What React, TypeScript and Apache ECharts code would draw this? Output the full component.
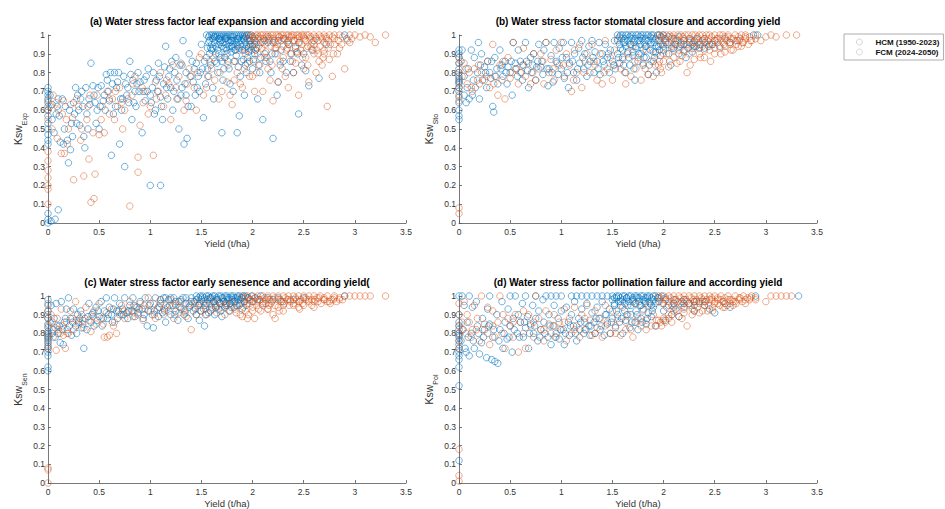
import React, { useEffect, useRef } from "react";
import * as echarts from "echarts";

// ---------- data (yield t/ha, water stress factor) ----------
const xTicks = [0, 0.5, 1, 1.5, 2, 2.5, 3, 3.5];
const seriesNames = ["HCM (1950-2023)", "FCM (2024-2050)"];
const titles = [
  "(a) Water stress factor leaf expansion and according yield",
  "(b) Water stress factor stomatal closure and according yield",
  "(c) Water stress factor early senesence and according yield(",
  "(d) Water stress factor pollination failure and according yield",
];
const subs = ["Exp", "Sto", "Sen", "Pol"];

const hcmExp = [
  [0,0.72],[0,0.7],[0,0.68],[0,0.66],[0,0.64],[0,0.62],[0,0.6],[0,0.57],[0,0.53],[0,0.5],[0,0.47],[0,0.44],[0,0.42],[0,0.05],[0,0.02],[0,0],[0.03,0.01],[0.07,0.02],[0.1,0.07],
  [0.04,0.63],[0.08,0.58],[0.1,0.66],[0.12,0.43],[0.15,0.42],[0.17,0.62],[0.19,0.44],[0.2,0.32],[0.22,0.39],[0.23,0.53],[0.25,0.64],[0.27,0.72],[0.28,0.53],[0.3,0.6],[0.32,0.66],[0.33,0.7],[0.35,0.46],[0.36,0.4],[0.38,0.58],[0.4,0.66],[0.42,0.85],[0.44,0.73],[0.45,0.68],[0.47,0.53],[0.48,0.6],[0.5,0.5],[0.52,0.73],[0.54,0.65],[0.55,0.68],[0.57,0.79],[0.58,0.76],[0.6,0.65],[0.61,0.8],[0.62,0.36],[0.64,0.58],[0.65,0.8],[0.67,0.72],[0.68,0.75],[0.7,0.42],[0.71,0.66],[0.72,0.6],[0.74,0.78],[0.75,0.3],[0.77,0.68],[0.78,0.72],[0.8,0.86],[0.81,0.79],[0.82,0.55],[0.84,0.64],[0.85,0.7],[0.87,0.74],[0.88,0.8],[0.9,0.75],[0.92,0.48],[0.93,0.7],[0.95,0.65],[0.96,0.78],[0.98,0.82],
  [1.0,0.2],[1.1,0.2],[1.0,0.68],[1.02,0.72],[1.04,0.58],[1.05,0.6],[1.06,0.76],[1.08,0.85],[1.1,0.67],[1.11,0.62],[1.12,0.55],[1.14,0.83],[1.15,0.94],[1.16,0.72],[1.18,0.78],[1.2,0.72],[1.21,0.86],[1.22,0.6],[1.24,0.8],[1.25,0.88],[1.27,0.66],[1.28,0.5],[1.3,0.68],[1.31,0.84],[1.32,0.97],[1.33,0.42],[1.34,0.74],[1.35,0.8],[1.36,0.45],[1.37,0.62],[1.38,0.9],[1.4,0.62],[1.41,0.86],[1.42,0.75],[1.44,0.68],[1.45,0.85],[1.47,0.78],[1.48,0.7],[1.5,0.95],[1.51,0.82],[1.52,0.56],[1.54,0.74],[1.55,0.88],[1.56,0.93],[1.57,0.78],[1.59,0.84],[1.6,0.92],[1.61,0.72],[1.62,0.66],[1.64,0.9],[1.65,0.85],[1.66,0.8],[1.68,0.96],[1.69,0.88],[1.7,0.48],[1.71,0.76],[1.72,0.82],[1.74,0.93],[1.75,0.9],[1.76,0.86],[1.78,0.74],[1.79,0.91],[1.8,0.94],[1.81,0.7],[1.82,0.86],[1.84,0.89],[1.85,0.48],[1.86,0.83],[1.87,0.57],[1.88,0.78],[1.9,0.92],[1.91,0.87],[1.92,0.68],[1.94,0.8],[1.95,0.88],[1.96,0.91],[1.98,0.95],
  [2.0,0.82],[2.01,0.87],[2.03,0.92],[2.05,0.66],[2.06,0.84],[2.08,0.88],[2.1,0.55],[2.12,0.9],[2.15,0.96],[2.17,0.86],[2.18,0.8],[2.2,0.45],[2.22,0.9],[2.24,0.68],[2.25,0.75],[2.28,0.92],[2.3,0.86],[2.33,0.8],[2.35,0.95],[2.38,0.9],[2.4,0.8],[2.42,0.93],[2.45,0.58],[2.48,0.84],[2.5,0.9],[2.52,0.81],[2.55,0.73],[2.58,0.92],[2.6,0.97],[2.65,0.77],[2.72,0.95],[2.9,1.0],[2.92,0.98],
];
const hcmExpMore = [
  [0.02,0.68],[0.04,0.55],[0.06,0.48],[0.09,0.62],[0.11,0.57],[0.14,0.66],[0.16,0.5],[0.21,0.6],[0.24,0.46],[0.26,0.58],[0.29,0.68],[0.31,0.52],[0.34,0.62],[0.37,0.72],[0.39,0.5],[0.41,0.63],[0.46,0.64],[0.49,0.72],[0.51,0.62],[0.56,0.6],[0.59,0.7],[0.63,0.74],[0.66,0.62],[0.69,0.8],[0.73,0.66],[0.76,0.74],[0.79,0.64],[0.83,0.76],[0.86,0.62],[0.89,0.7],[0.94,0.76],[0.97,0.7],
  [1.01,0.64],[1.03,0.8],[1.07,0.7],[1.09,0.78],[1.13,0.74],[1.17,0.66],[1.19,0.82],[1.23,0.7],[1.26,0.76],[1.29,0.84],[1.31,0.72],[1.35,0.68],[1.39,0.78],[1.43,0.82],[1.46,0.72],[1.49,0.8],[1.53,0.86],[1.56,0.82],[1.58,0.9],[1.63,0.86],[1.67,0.9],[1.7,0.86],[1.73,0.88],[1.77,0.82],[1.83,0.92],[1.89,0.86],[1.93,0.84],[1.97,0.86],[2.02,0.9],[2.07,0.8],[2.13,0.86],[2.19,0.9],[2.27,0.84],[2.37,0.86],[2.44,0.9],
];
const hcmExpTop = [
  [1.55,1],[1.57,0.99],[1.58,1],[1.6,1],[1.61,0.98],[1.62,1],[1.63,0.99],[1.64,1],[1.66,1],[1.67,0.98],[1.68,1],[1.69,0.99],[1.7,1],[1.72,1],[1.73,0.98],[1.74,1],[1.75,0.99],[1.76,1],[1.78,1],[1.79,0.97],[1.8,1],[1.81,0.99],[1.82,1],[1.84,1],[1.85,0.98],[1.86,1],[1.87,0.99],[1.88,1],[1.9,1],[1.91,0.98],[1.92,1],[1.93,0.99],[1.94,1],[1.96,1],[1.97,0.97],[1.98,1],[2.0,0.99],[2.02,0.97],[2.05,0.98],[2.08,0.96],[2.12,0.97],[2.16,0.98],[2.2,0.96],[2.25,0.97],[2.3,0.98],[2.35,0.97],[2.45,0.96],
  [1.58,0.97],[1.6,0.95],[1.61,0.93],[1.63,0.96],[1.64,0.94],[1.65,0.99],[1.66,0.92],[1.67,0.95],[1.69,0.97],[1.7,0.94],[1.71,0.96],[1.72,0.93],[1.73,0.99],[1.74,0.95],[1.75,0.92],[1.76,0.97],[1.77,0.94],[1.78,0.96],[1.79,0.99],[1.8,0.93],[1.81,0.95],[1.82,0.97],[1.83,0.92],[1.84,0.96],[1.85,0.94],[1.86,0.98],[1.87,0.93],[1.88,0.95],[1.89,0.97],[1.9,0.94],[1.91,0.99],[1.92,0.92],[1.93,0.96],[1.94,0.94],[1.95,0.98],[1.96,0.93],[1.97,0.95],[1.98,0.97],[1.99,0.92],[2.0,0.94],[1.62,0.99],[1.68,0.98],[1.74,0.98],[1.8,0.97],[1.86,0.96],[1.92,0.98],[1.57,0.96],[1.59,0.93],[2.02,0.95],[2.04,0.93],
];

const fcmExp = [
  [0,0.65],[0,0.6],[0,0.55],[0,0.38],[0,0.33],[0,0.28],[0,0.24],[0,0.2],[0,0.18],[0,0.1],[0.02,0.62],[0.05,0.68],[0.08,0.64],[0.1,0.6],[0.13,0.37],[0.15,0.65],[0.16,0.37],[0.18,0.55],[0.2,0.5],[0.22,0.63],[0.25,0.23],[0.28,0.66],[0.3,0.62],[0.33,0.5],[0.35,0.25],[0.38,0.55],[0.4,0.34],[0.41,0.68],[0.42,0.11],[0.45,0.13],[0.46,0.26],[0.48,0.68],[0.5,0.47],[0.53,0.62],[0.55,0.48],[0.58,0.7],[0.6,0.58],[0.63,0.66],[0.65,0.55],[0.68,0.62],[0.7,0.72],[0.73,0.5],[0.75,0.6],[0.78,0.66],[0.8,0.09],[0.83,0.74],[0.85,0.78],[0.88,0.27],[0.88,0.35],[0.9,0.52],[0.93,0.64],[0.95,0.7],[0.98,0.58],
  [1.0,0.62],[1.03,0.36],[1.05,0.75],[1.08,0.7],[1.1,0.8],[1.13,0.62],[1.15,0.68],[1.18,0.74],[1.2,0.55],[1.22,0.84],[1.25,0.72],[1.28,0.78],[1.3,0.85],[1.33,0.6],[1.35,0.65],[1.38,0.82],[1.4,0.78],[1.43,0.72],[1.45,0.6],[1.48,0.88],[1.5,0.9],[1.52,0.68],[1.55,0.72],[1.58,0.86],[1.6,0.82],[1.63,0.76],[1.67,0.66],[1.7,0.7],[1.73,0.88],[1.75,0.75],[1.78,0.68],[1.8,0.63],[1.83,0.86],[1.85,0.8],[1.88,0.74],[1.9,0.72],[1.93,0.9],[1.95,0.85],[1.97,0.78],
  [2.0,0.78],[2.02,0.7],[2.05,0.9],[2.07,0.84],[2.1,0.7],[2.12,0.88],[2.15,0.82],[2.17,0.76],[2.2,0.65],[2.22,0.93],[2.25,0.75],[2.27,0.86],[2.3,0.88],[2.32,0.78],[2.35,0.72],[2.37,0.9],[2.4,0.8],[2.42,0.85],[2.45,0.68],[2.47,0.92],[2.5,0.82],[2.52,0.88],[2.55,0.75],[2.57,0.94],[2.6,0.9],[2.62,0.8],[2.65,0.86],[2.68,0.84],[2.7,0.92],[2.73,0.62],[2.75,0.87],[2.78,0.78],[2.8,0.95],[2.83,0.9],[2.85,0.93],[2.9,0.82],[2.93,0.97],[2.95,0.96],[3.0,1.0],[3.05,0.99],[3.1,1.0],[3.15,0.99],[3.2,0.96],[3.3,1.0],
];
const fcmExpMore = [
  [0.04,0.5],[0.09,0.45],[0.14,0.58],[0.19,0.42],[0.24,0.56],[0.32,0.44],[0.39,0.62],[0.44,0.48],[0.52,0.55],[0.6,0.66],[0.66,0.7],[0.72,0.64],[0.82,0.68],[0.92,0.72],[1.06,0.66],[1.16,0.76],[1.26,0.66],[1.36,0.74],[1.46,0.8],[1.56,0.78],[1.62,0.88],[1.68,0.8],[1.76,0.84],[1.82,0.76],[1.87,0.92],[1.92,0.82],[1.96,0.92],
  [2.01,0.86],[2.04,0.8],[2.09,0.93],[2.14,0.88],[2.19,0.84],[2.24,0.9],[2.29,0.82],[2.34,0.93],[2.39,0.86],[2.44,0.91],[2.49,0.88],[2.54,0.84],[2.59,0.92],[2.64,0.9],[2.69,0.88],[2.74,0.93],[2.79,0.9],[2.87,0.95],[2.97,0.98],
];
const fcmExpTop = [
  [1.95,1],[1.97,0.99],[1.99,1],[2.01,0.98],[2.03,1],[2.05,1],[2.06,0.99],[2.08,1],[2.1,1],[2.11,0.98],[2.13,1],[2.15,1],[2.16,0.99],[2.18,1],[2.2,1],[2.21,0.97],[2.23,1],[2.25,1],[2.26,0.99],[2.28,1],[2.3,1],[2.31,0.98],[2.33,1],[2.35,1],[2.36,0.99],[2.38,1],[2.4,1],[2.41,0.97],[2.43,1],[2.45,1],[2.46,0.99],[2.48,1],[2.5,1],[2.51,0.98],[2.53,1],[2.55,1],[2.57,0.99],[2.6,1],[2.62,0.98],[2.65,1],[2.67,0.99],[2.7,1],[2.72,0.98],[2.75,1],[2.78,0.99],[2.8,1],[2.85,1],[2.88,0.99],[2.95,1],
  [1.98,0.97],[2.0,0.95],[2.02,0.99],[2.04,0.96],[2.06,0.94],[2.08,0.98],[2.1,0.96],[2.12,0.95],[2.14,0.99],[2.16,0.97],[2.18,0.94],[2.2,0.98],[2.22,0.96],[2.24,0.95],[2.26,0.99],[2.28,0.97],[2.3,0.94],[2.32,0.98],[2.34,0.96],[2.36,0.95],[2.38,0.99],[2.4,0.97],[2.42,0.94],[2.44,0.98],[2.46,0.96],[2.48,0.95],[2.5,0.99],[2.52,0.97],[2.54,0.94],[2.56,0.98],[2.58,0.96],[2.6,0.95],[2.62,0.99],[2.64,0.97],[2.66,0.94],[2.68,0.98],[2.7,0.96],[2.72,0.99],[2.74,0.97],[2.76,0.95],[2.8,0.98],[2.84,0.97],[2.03,0.92],[2.13,0.91],[2.23,0.93],[2.33,0.92],[2.43,0.91],[2.53,0.93],[2.63,0.92],[2.7,0.9],
];

const hcmSto = [
  [0,0.92],[0,0.9],[0,0.88],[0,0.85],[0,0.82],[0,0.8],[0,0.78],[0,0.77],[0,0.76],[0,0.75],[0,0.74],[0,0.72],[0,0.7],[0,0.67],[0,0.64],[0,0.6],[0,0.57],[0,0.55],
  [0.03,0.92],[0.05,0.68],[0.07,0.64],[0.08,0.72],[0.1,0.66],[0.12,0.92],[0.13,0.68],[0.15,0.88],[0.16,0.72],[0.18,0.8],[0.19,0.96],[0.2,0.66],[0.22,0.9],[0.23,0.76],[0.25,0.83],[0.27,0.72],[0.28,0.86],[0.3,0.8],[0.31,0.77],[0.33,0.62],[0.34,0.59],[0.35,0.88],[0.37,0.82],[0.38,0.74],[0.4,0.92],[0.42,0.84],[0.43,0.78],[0.45,0.86],[0.47,0.74],[0.48,0.83],[0.5,0.8],[0.52,0.68],[0.53,0.96],[0.55,0.85],[0.57,0.78],[0.58,0.92],[0.6,0.86],[0.62,0.76],[0.63,0.84],[0.65,0.96],[0.67,0.81],[0.68,0.72],[0.7,0.88],[0.72,0.84],[0.73,0.9],[0.75,0.76],[0.77,0.86],[0.78,0.95],[0.8,0.83],[0.82,0.79],[0.83,0.92],[0.85,0.96],[0.87,0.73],[0.88,0.82],[0.9,0.89],[0.92,0.75],[0.93,0.96],[0.95,0.86],[0.97,0.79],[0.98,0.93],
  [1.0,0.82],[1.02,0.96],[1.03,0.77],[1.05,0.88],[1.07,0.72],[1.08,0.85],[1.1,0.96],[1.12,0.8],[1.13,0.9],[1.15,0.76],[1.17,0.93],[1.18,0.85],[1.2,0.97],[1.22,0.82],[1.23,0.9],[1.25,0.78],[1.27,0.94],[1.28,0.86],[1.3,0.97],[1.32,0.8],[1.33,0.91],[1.35,0.86],[1.37,0.96],[1.38,0.79],[1.4,0.9],[1.42,0.84],[1.43,0.95],[1.45,0.88],[1.47,0.8],[1.48,0.92],[1.5,0.86],[1.52,0.97],[1.53,0.82],[1.55,0.9],[1.57,0.85],[1.58,0.93],[1.6,0.88],[1.62,0.96],[1.63,0.8],[1.65,0.91],[1.67,0.84],[1.68,0.95],[1.7,0.89],[1.72,0.76],[1.73,0.93],[1.75,0.86],[1.77,0.97],[1.78,0.9],[1.8,0.84],[1.82,0.94],[1.83,0.88],[1.85,0.79],[1.87,0.92],[1.88,0.96],[1.9,0.86],[1.92,0.91],[1.93,0.8],[1.95,0.94],[1.97,0.89],
  [2.0,0.92],[2.02,0.96],[2.05,0.9],[2.07,0.84],[2.1,0.93],[2.12,0.97],[2.15,0.9],[2.17,0.95],[2.2,0.92],[2.22,0.88],[2.25,0.96],[2.28,0.91],[2.3,0.94],[2.33,0.98],[2.35,0.93],[2.4,0.96],[2.45,0.95],[2.5,0.97],[2.55,0.94],[2.6,0.98],[2.65,0.96],[2.72,0.97],[2.88,1],[2.92,1],
];
const hcmStoMore = [
  [0.02,0.86],[0.05,0.78],[0.09,0.82],[0.14,0.76],[0.21,0.84],[0.26,0.8],[0.32,0.86],[0.36,0.78],[0.41,0.82],[0.46,0.8],[0.51,0.86],[0.56,0.82],[0.61,0.8],[0.66,0.86],[0.71,0.8],[0.76,0.83],[0.81,0.86],[0.86,0.82],[0.91,0.8],[0.96,0.85],
  [1.01,0.88],[1.06,0.8],[1.11,0.86],[1.16,0.82],[1.21,0.88],[1.26,0.84],[1.31,0.88],[1.36,0.82],[1.41,0.86],[1.46,0.9],[1.51,0.84],[1.56,0.88],[1.61,0.84],[1.66,0.88],[1.71,0.82],[1.76,0.9],[1.81,0.88],[1.86,0.84],[1.91,0.88],[1.96,0.92],
];
const hcmStoTop = [
  [1.55,1],[1.57,0.99],[1.58,1],[1.6,1],[1.62,0.98],[1.63,1],[1.65,1],[1.67,0.99],[1.68,1],[1.7,1],[1.72,0.98],[1.73,1],[1.75,1],[1.77,0.99],[1.78,1],[1.8,1],[1.82,0.98],[1.83,1],[1.85,1],[1.87,0.99],[1.88,1],[1.9,1],[1.92,0.98],[1.94,1],[1.96,1],[1.98,0.99],[2.0,1],[2.02,0.98],[2.05,0.99],[2.1,0.98],[2.15,0.99],[2.2,0.97],[2.25,0.98],[2.3,0.97],[2.4,0.98],
  [1.55,0.97],[1.57,0.95],[1.59,0.98],[1.61,0.96],[1.63,0.94],[1.65,0.97],[1.67,0.95],[1.69,0.98],[1.71,0.96],[1.73,0.94],[1.75,0.97],[1.77,0.95],[1.79,0.98],[1.81,0.96],[1.83,0.94],[1.85,0.97],[1.87,0.95],[1.89,0.98],[1.91,0.96],[1.93,0.94],[1.95,0.97],[1.97,0.95],[2.0,0.94],[2.04,0.95],[2.08,0.93],[2.12,0.95],[2.16,0.94],[2.2,0.95],[2.24,0.93],[2.28,0.95],[2.32,0.94],[2.36,0.95],[2.4,0.93],[2.44,0.94],[2.48,0.95],[1.6,0.92],[1.7,0.91],[1.8,0.92],[1.9,0.91],
];

const fcmSto = [
  [0,0.88],[0,0.85],[0,0.8],[0,0.75],[0,0.72],[0,0.68],[0,0.65],[0,0.08],[0,0.05],[0.05,0.85],[0.08,0.74],[0.1,0.8],[0.12,0.72],[0.15,0.82],[0.18,0.76],[0.2,0.74],[0.22,0.8],[0.25,0.76],[0.28,0.86],[0.3,0.72],[0.33,0.95],[0.35,0.78],[0.38,0.68],[0.4,0.84],[0.43,0.86],[0.45,0.66],[0.48,0.88],[0.5,0.77],[0.53,0.96],[0.55,0.82],[0.58,0.74],[0.6,0.8],[0.63,0.93],[0.65,0.78],[0.68,0.85],[0.7,0.74],[0.73,0.9],[0.75,0.76],[0.78,0.82],[0.8,0.9],[0.83,0.74],[0.85,0.96],[0.88,0.8],[0.9,0.87],[0.93,0.76],[0.95,0.92],[0.98,0.84],
  [1.0,0.96],[1.03,0.78],[1.05,0.9],[1.08,0.84],[1.1,0.7],[1.13,0.92],[1.15,0.8],[1.18,0.95],[1.2,0.72],[1.23,0.86],[1.25,0.9],[1.28,0.8],[1.3,0.95],[1.33,0.84],[1.35,0.76],[1.38,0.9],[1.4,0.74],[1.43,0.97],[1.45,0.82],[1.48,0.88],[1.5,0.76],[1.52,0.92],[1.55,0.98],[1.58,0.82],[1.6,0.87],[1.63,0.74],[1.65,0.9],[1.68,0.78],[1.7,0.94],[1.73,0.82],[1.75,0.88],[1.78,0.76],[1.8,0.85],[1.83,0.92],[1.85,0.79],[1.88,0.86],[1.9,0.78],[1.93,0.9],[1.95,0.84],[1.97,0.82],
  [2.0,0.86],[2.03,0.9],[2.05,0.83],[2.08,0.94],[2.1,0.88],[2.13,0.85],[2.15,0.92],[2.18,0.89],[2.2,0.95],[2.23,0.8],[2.25,0.9],[2.28,0.93],[2.3,0.87],[2.33,0.96],[2.35,0.9],[2.38,0.94],[2.4,0.88],[2.43,0.97],[2.45,0.92],[2.48,0.95],[2.5,0.9],[2.53,0.98],[2.55,0.93],[2.58,0.96],[2.6,0.91],[2.63,0.99],[2.65,0.95],[2.68,0.92],[2.7,0.97],[2.73,0.94],[2.75,0.98],[2.78,0.96],[2.8,0.99],[2.85,0.97],[2.9,0.98],[2.95,0.97],[3.0,0.99],[3.05,1],[3.1,0.99],[3.2,1],[3.3,1],
];
const fcmStoMore = [
  [0.03,0.78],[0.07,0.82],[0.13,0.7],[0.19,0.84],[0.27,0.78],[0.34,0.74],[0.42,0.76],[0.52,0.8],[0.62,0.84],[0.72,0.8],[0.82,0.86],[0.92,0.82],[1.02,0.84],[1.12,0.76],[1.22,0.8],[1.32,0.86],[1.42,0.8],[1.52,0.84],[1.62,0.8],[1.72,0.86],[1.82,0.82],[1.92,0.84],[1.96,0.86],[1.98,0.8],[2.06,0.86],[2.16,0.86],[2.26,0.84],[2.36,0.88],[2.46,0.86],[2.56,0.9],[2.66,0.92],[2.76,0.94],
];
const fcmStoTop = [
  [1.95,1],[1.97,0.99],[1.99,1],[2.01,0.98],[2.03,1],[2.06,1],[2.08,0.99],[2.1,1],[2.12,0.98],[2.14,1],[2.17,1],[2.19,0.99],[2.21,1],[2.24,1],[2.26,0.98],[2.28,1],[2.31,1],[2.33,0.99],[2.35,1],[2.38,1],[2.4,0.98],[2.42,1],[2.45,1],[2.47,0.99],[2.5,1],[2.52,0.98],[2.55,1],[2.58,1],[2.6,0.99],[2.63,1],[2.66,0.98],[2.7,1],[2.73,0.99],[2.76,1],[2.8,1],[2.84,0.99],[2.9,1],
  [1.96,0.97],[1.99,0.95],[2.02,0.97],[2.05,0.96],[2.08,0.98],[2.11,0.95],[2.14,0.97],[2.17,0.96],[2.2,0.98],[2.23,0.95],[2.26,0.97],[2.29,0.96],[2.32,0.98],[2.35,0.95],[2.38,0.97],[2.41,0.96],[2.44,0.98],[2.47,0.95],[2.5,0.97],[2.53,0.96],[2.56,0.98],[2.59,0.95],[2.62,0.97],[2.65,0.96],[2.68,0.98],[2.71,0.95],[2.74,0.97],[2.77,0.96],[2.8,0.98],[2.83,0.95],[2.86,0.97],[2.0,0.9],[2.1,0.92],[2.2,0.91],[2.3,0.93],[2.4,0.92],[2.5,0.93],[2.6,0.94],
];

const hcmSen = [
  [0,0.98],[0,0.95],[0,0.92],[0,0.9],[0,0.88],[0,0.85],[0,0.83],[0,0.81],[0,0.8],[0,0.79],[0,0.78],[0,0.77],[0,0.76],[0,0.75],[0,0.73],[0,0.72],[0,0.7],[0,0.68],[0,0.62],[0,0.6],
  [0.03,0.95],[0.05,0.82],[0.06,0.88],[0.08,0.96],[0.1,0.8],[0.11,0.84],[0.12,0.75],[0.13,0.97],[0.15,0.74],[0.16,0.86],[0.18,0.93],[0.19,0.82],[0.2,0.99],[0.22,0.88],[0.23,0.79],[0.25,0.93],[0.27,0.84],[0.28,0.8],[0.3,0.86],[0.32,0.92],[0.33,0.83],[0.35,0.72],[0.36,0.88],[0.38,0.82],[0.4,0.96],[0.42,0.86],[0.43,0.9],[0.45,0.84],[0.47,0.94],[0.48,0.87],[0.5,0.89],[0.52,0.97],[0.53,0.84],[0.55,0.92],[0.57,0.99],[0.58,0.88],[0.6,0.94],[0.62,0.9],[0.63,0.86],[0.65,0.99],[0.67,0.92],[0.68,0.88],[0.7,0.96],[0.72,0.9],[0.73,0.93],[0.75,0.99],[0.77,0.91],[0.78,0.88],[0.8,0.95],[0.82,0.92],[0.83,0.99],[0.85,0.89],[0.87,0.94],[0.88,0.91],[0.9,0.97],[0.92,0.93],[0.93,0.88],[0.95,0.99],[0.97,0.84],[0.98,0.92],
  [1.0,0.96],[1.02,0.9],[1.03,0.83],[1.05,0.99],[1.07,0.93],[1.08,0.89],[1.1,0.96],[1.12,0.91],[1.13,0.99],[1.15,0.86],[1.17,0.94],[1.18,0.98],[1.2,0.9],[1.22,0.95],[1.23,0.99],[1.25,0.92],[1.27,0.87],[1.28,0.97],[1.3,0.93],[1.32,0.99],[1.33,0.9],[1.35,0.96],[1.37,0.88],[1.38,0.94],[1.4,0.99],[1.42,0.92],[1.43,0.97],[1.45,0.9],[1.47,0.95],[1.48,0.87],[1.5,0.98],[1.52,0.93],[1.53,0.84],[1.55,0.96],[1.57,0.91],[1.58,0.99],[1.6,0.94],[1.62,0.97],[1.63,0.9],[1.65,0.98],[1.67,0.93],[1.68,0.96],[1.7,0.89],[1.72,0.97],[1.73,0.94],[1.75,0.99],[1.77,0.92],[1.78,0.96],[1.8,0.98],[1.82,0.94],[1.83,0.97],[1.85,0.99],[1.87,0.95],[1.88,0.98],[1.9,0.93],[1.92,0.97],[1.95,0.99],
  [2.0,0.97],[2.05,0.98],[2.1,0.96],[2.2,0.98],[2.3,0.97],[2.4,0.98],[2.5,0.99],[2.9,1],
];
const hcmSenMore = [
  [0.02,0.86],[0.04,0.8],[0.07,0.78],[0.09,0.84],[0.14,0.82],[0.17,0.88],[0.21,0.84],[0.24,0.86],[0.29,0.9],[0.31,0.88],[0.34,0.85],[0.39,0.89],[0.44,0.91],[0.49,0.92],[0.54,0.88],[0.59,0.9],[0.64,0.93],[0.69,0.92],[0.74,0.9],[0.79,0.92],[0.84,0.95],[0.89,0.93],[0.94,0.9],[0.99,0.95],
  [1.04,0.92],[1.09,0.94],[1.14,0.92],[1.19,0.95],[1.24,0.9],[1.29,0.94],[1.34,0.92],[1.39,0.95],[1.44,0.93],[1.49,0.92],[1.54,0.9],[1.59,0.92],[1.64,0.94],[1.69,0.92],[1.74,0.96],[1.79,0.94],
];
const hcmSenTop = [
  [1.45,1],[1.47,0.99],[1.49,1],[1.51,1],[1.53,0.99],[1.55,1],[1.57,1],[1.59,0.99],[1.61,1],[1.63,1],[1.65,0.99],[1.67,1],[1.69,1],[1.71,0.99],[1.73,1],[1.75,1],[1.77,0.99],[1.79,1],[1.81,1],[1.83,0.99],[1.85,1],[1.87,1],[1.89,0.99],[1.91,1],[1.93,1],[1.96,0.99],[1.99,1],[2.03,0.99],[2.08,1],[2.15,0.99],[2.25,0.99],
  [1.45,0.98],[1.48,0.96],[1.5,0.99],[1.52,0.97],[1.54,0.95],[1.56,0.98],[1.58,0.96],[1.6,0.99],[1.62,0.97],[1.64,0.95],[1.66,0.98],[1.68,0.96],[1.7,0.99],[1.72,0.97],[1.74,0.95],[1.76,0.98],[1.78,0.96],[1.8,0.99],[1.82,0.97],[1.84,0.95],[1.86,0.98],[1.88,0.96],[1.9,0.99],[1.92,0.97],[1.94,0.95],[1.3,0.98],[1.35,0.99],[1.4,0.97],[1.2,0.99],[1.25,0.97],[1.1,0.98],[1.15,0.99],
];

const fcmSen = [
  [0,0.96],[0,0.92],[0,0.88],[0,0.84],[0,0.8],[0,0.78],[0,0.74],[0,0.72],[0,0.08],[0,0.07],[0,0.0],[0.03,0.9],[0.05,0.78],[0.07,0.83],[0.08,0.71],[0.1,0.82],[0.12,0.8],[0.13,0.93],[0.15,0.79],[0.17,0.72],[0.18,0.86],[0.2,0.8],[0.22,0.92],[0.25,0.82],[0.27,0.97],[0.28,0.87],[0.3,0.85],[0.33,0.9],[0.35,0.83],[0.37,0.94],[0.4,0.87],[0.42,0.81],[0.45,0.92],[0.47,0.85],[0.5,0.96],[0.52,0.88],[0.55,0.78],[0.57,0.91],[0.6,0.79],[0.62,0.93],[0.65,0.86],[0.67,0.8],[0.7,0.9],[0.72,0.95],[0.75,0.88],[0.78,0.92],[0.8,0.97],[0.83,0.89],[0.85,0.94],[0.88,0.9],[0.9,0.96],[0.93,0.87],[0.95,0.93],[0.98,0.99],
  [1.0,0.92],[1.03,0.96],[1.05,0.88],[1.08,0.94],[1.1,0.98],[1.13,0.9],[1.15,0.95],[1.18,0.92],[1.2,0.98],[1.23,0.88],[1.25,0.95],[1.28,0.91],[1.3,0.97],[1.33,0.93],[1.35,0.89],[1.38,0.96],[1.4,0.82],[1.43,0.94],[1.45,0.9],[1.48,0.97],[1.5,0.92],[1.53,0.95],[1.55,0.9],[1.58,0.98],[1.6,0.93],[1.63,0.96],[1.65,0.91],[1.68,0.97],[1.7,0.94],[1.73,0.9],[1.75,0.96],[1.78,0.92],[1.8,0.97],[1.83,0.93],[1.85,0.95],[1.88,0.9],[1.9,0.89],[1.93,0.92],[1.95,0.88],[1.97,0.96],
  [2.0,0.94],[2.02,0.88],[2.05,0.97],[2.08,0.92],[2.1,0.95],[2.13,0.98],[2.15,0.93],[2.18,0.96],[2.2,0.9],[2.22,0.88],[2.25,0.94],[2.28,0.97],[2.3,0.95],[2.35,0.98],[2.4,0.96],[2.45,0.97],[2.5,0.95],[2.55,0.98],[2.6,0.97],[2.65,0.99],[2.7,0.98],[2.75,0.97],[2.8,0.99],[2.85,0.98],[2.9,1],[2.95,1],[3.0,1],[3.05,1],[3.1,1],[3.15,1],[3.3,1],
];
const fcmSenMore = [
  [0.04,0.86],[0.09,0.88],[0.14,0.84],[0.19,0.8],[0.24,0.88],[0.34,0.87],[0.44,0.89],[0.54,0.85],[0.58,0.78],[0.64,0.84],[0.74,0.92],[0.84,0.91],[0.94,0.95],[1.04,0.9],[1.14,0.93],[1.24,0.96],[1.34,0.91],[1.44,0.96],[1.54,0.93],[1.64,0.94],[1.74,0.95],[1.84,0.91],[1.91,0.94],[1.96,0.9],[2.06,0.93],[2.16,0.95],[2.26,0.92],[2.36,0.95],[2.46,0.93],
];
const fcmSenTop = [
  [1.9,1],[1.92,0.99],[1.95,1],[1.97,0.98],[2.0,1],[2.02,0.99],[2.05,1],[2.07,0.98],[2.1,1],[2.12,0.99],[2.15,1],[2.17,0.98],[2.2,1],[2.22,0.99],[2.25,1],[2.27,0.98],[2.3,1],[2.32,0.99],[2.35,1],[2.37,0.98],[2.4,1],[2.42,0.99],[2.45,1],[2.47,0.98],[2.5,1],[2.52,0.99],[2.55,1],[2.58,0.98],[2.6,1],[2.63,0.99],[2.66,1],[2.7,0.99],[2.73,1],[2.77,0.98],[2.8,1],[2.85,0.99],
  [1.92,0.97],[1.95,0.96],[1.98,0.98],[2.01,0.97],[2.04,0.95],[2.07,0.98],[2.1,0.97],[2.13,0.96],[2.16,0.98],[2.19,0.97],[2.22,0.95],[2.25,0.98],[2.28,0.97],[2.31,0.96],[2.34,0.98],[2.37,0.97],[2.4,0.95],[2.43,0.98],[2.46,0.97],[2.49,0.96],[2.52,0.98],[2.55,0.97],[2.58,0.95],[2.61,0.98],[2.64,0.97],[2.67,0.96],[2.7,0.98],[2.73,0.97],[2.76,0.96],[2.79,0.98],[2.82,0.97],[2.88,0.98],[2.0,0.92],[2.15,0.93],[2.3,0.92],[2.45,0.94],[2.6,0.94],
];

const hcmPol = [
  [0,1],[0,0.9],[0,0.86],[0,0.84],[0,0.82],[0,0.8],[0,0.79],[0,0.78],[0,0.76],[0,0.74],[0,0.72],[0,0.7],[0,0.68],[0,0.66],[0,0.62],[0,0.52],[0,0.12],
  [0.03,1],[0.05,0.95],[0.06,0.72],[0.08,0.86],[0.1,0.68],[0.1,1],[0.12,0.8],[0.13,0.94],[0.15,0.72],[0.17,0.97],[0.18,0.84],[0.2,0.69],[0.22,0.75],[0.23,0.88],[0.25,0.82],[0.27,0.67],[0.28,0.93],[0.3,0.85],[0.3,1],[0.32,0.66],[0.33,0.78],[0.35,0.65],[0.37,0.9],[0.38,0.64],[0.4,0.82],[0.42,0.97],[0.43,0.72],[0.45,0.86],[0.47,0.77],[0.48,0.93],[0.5,0.84],[0.52,0.7],[0.53,0.88],[0.55,1],[0.57,0.8],[0.58,0.9],[0.6,0.86],[0.62,0.96],[0.63,0.78],[0.65,0.83],[0.65,1],[0.67,0.89],[0.68,0.72],[0.7,0.85],[0.72,0.95],[0.73,0.8],[0.75,0.88],[0.77,0.76],[0.78,0.92],[0.8,0.82],[0.82,0.98],[0.83,0.86],[0.85,1],[0.87,0.78],[0.88,0.9],[0.9,0.74],[0.9,1],[0.92,0.84],[0.93,0.95],[0.95,0.8],[0.97,0.88],[0.98,0.77],
  [1.0,0.92],[1.0,1],[1.02,0.82],[1.03,0.74],[1.05,0.94],[1.07,0.86],[1.08,0.79],[1.1,0.9],[1.12,0.84],[1.13,0.97],[1.15,0.76],[1.15,1],[1.17,0.88],[1.18,0.82],[1.2,0.93],[1.2,1],[1.22,0.8],[1.23,0.86],[1.25,0.96],[1.27,0.84],[1.28,0.79],[1.3,0.91],[1.3,1],[1.32,0.86],[1.33,0.8],[1.35,0.94],[1.37,0.88],[1.38,0.82],[1.4,0.97],[1.4,1],[1.42,0.79],[1.43,0.9],[1.45,0.85],[1.47,0.93],[1.48,0.8],[1.5,0.88],[1.52,0.95],[1.53,0.83],[1.55,0.9],[1.57,0.86],[1.58,0.97],[1.6,0.8],[1.62,0.92],[1.63,0.87],[1.65,0.95],[1.67,0.83],[1.68,0.9],[1.7,0.97],[1.72,0.86],[1.73,0.92],[1.75,0.82],[1.77,0.95],[1.78,0.88],[1.8,0.93],[1.82,0.97],[1.83,0.85],[1.85,0.91],[1.87,0.96],[1.88,0.89],[1.9,0.94],[1.92,0.84],[1.95,0.97],
  [2.0,0.92],[2.02,0.87],[2.05,0.95],[2.08,0.9],[2.1,0.96],[2.12,0.93],[2.15,0.89],[2.18,0.97],[2.2,0.94],[2.25,0.96],[2.3,0.92],[2.35,0.97],[2.4,0.95],[2.45,0.93],[2.5,0.91],[2.6,0.96],[2.65,0.94],[2.9,1],[3.32,1],
];
const hcmPolMore = [
  [0.02,0.76],[0.04,0.82],[0.07,0.7],[0.09,0.78],[0.14,0.76],[0.19,0.8],[0.24,0.78],[0.29,0.84],[0.34,0.82],[0.39,0.76],[0.44,0.8],[0.49,0.78],[0.54,0.82],[0.59,0.78],[0.64,0.86],[0.69,0.8],[0.74,0.84],[0.79,0.78],[0.84,0.8],[0.89,0.84],[0.94,0.78],[0.99,0.82],
  [1.04,0.8],[1.09,0.84],[1.14,0.8],[1.19,0.86],[1.24,0.82],[1.29,0.84],[1.34,0.88],[1.39,0.84],[1.44,0.9],[1.49,0.86],[1.54,0.92],[1.59,0.88],[1.64,0.9],[1.69,0.86],[1.74,0.9],[1.79,0.86],[1.84,0.88],[1.89,0.92],
];
const hcmPolTop = [
  [1.5,1],[1.52,0.99],[1.54,1],[1.56,1],[1.58,0.99],[1.6,1],[1.62,1],[1.64,0.99],[1.66,1],[1.68,1],[1.7,0.99],[1.72,1],[1.74,1],[1.76,0.99],[1.78,1],[1.8,1],[1.82,0.99],[1.84,1],[1.86,1],[1.88,0.99],[1.9,1],[1.92,1],[1.95,0.99],[1.98,1],[2.02,0.99],[2.1,0.98],[2.2,0.98],[2.3,0.97],
  [1.5,0.98],[1.52,0.96],[1.54,0.99],[1.56,0.97],[1.58,0.95],[1.6,0.98],[1.62,0.96],[1.64,0.99],[1.66,0.97],[1.68,0.95],[1.7,0.98],[1.72,0.96],[1.74,0.99],[1.76,0.97],[1.78,0.95],[1.8,0.98],[1.82,0.96],[1.84,0.99],[1.86,0.97],[1.88,0.95],[1.9,0.98],[1.92,0.96],[1.94,0.99],[1.25,1],[1.35,1],[1.45,1],[1.1,1],[0.5,1],[0.75,1],[0.95,1],[2.0,0.96],[2.1,0.94],[2.2,0.96],[2.3,0.95],[2.4,0.97],
];

const fcmPol = [
  [0,0.96],[0,0.9],[0,0.84],[0,0.8],[0,0.76],[0,0.72],[0,0.18],[0,0.04],[0,0.01],[0.03,0.82],[0.05,0.97],[0.07,0.8],[0.1,0.86],[0.12,0.78],[0.15,0.95],[0.17,0.82],[0.2,0.76],[0.22,1],[0.25,0.85],[0.28,0.8],[0.3,0.74],[0.33,0.92],[0.35,0.78],[0.38,0.86],[0.4,1],[0.42,0.8],[0.45,0.72],[0.48,0.88],[0.5,0.84],[0.53,0.78],[0.55,0.9],[0.58,0.7],[0.6,0.86],[0.63,0.8],[0.65,0.72],[0.68,0.9],[0.7,0.84],[0.73,0.78],[0.75,1],[0.78,0.88],[0.8,0.82],[0.83,0.76],[0.85,0.92],[0.88,0.85],[0.9,0.8],[0.93,0.9],[0.95,0.78],[0.98,0.86],
  [1.0,0.82],[1.03,0.93],[1.05,0.76],[1.08,0.88],[1.1,0.8],[1.13,0.94],[1.15,0.84],[1.18,0.78],[1.2,0.9],[1.23,0.82],[1.25,0.95],[1.28,0.87],[1.3,0.79],[1.33,0.92],[1.35,0.83],[1.38,0.88],[1.4,0.78],[1.43,0.95],[1.45,0.86],[1.48,0.8],[1.5,0.92],[1.53,0.84],[1.55,0.88],[1.58,0.79],[1.6,0.94],[1.63,0.86],[1.65,0.9],[1.68,0.82],[1.7,0.78],[1.73,0.96],[1.75,0.88],[1.78,0.84],[1.8,0.92],[1.83,0.87],[1.85,0.95],[1.88,0.84],[1.9,0.9],[1.93,0.87],[1.95,0.87],[1.97,0.86],
  [2.0,0.88],[2.03,0.94],[2.05,0.9],[2.08,0.86],[2.1,0.96],[2.13,0.92],[2.15,0.89],[2.18,0.95],[2.2,0.91],[2.23,0.84],[2.25,0.96],[2.28,0.93],[2.3,0.97],[2.33,0.94],[2.35,0.91],[2.38,0.97],[2.4,0.95],[2.43,0.92],[2.45,0.98],[2.48,0.94],[2.5,0.96],[2.53,0.99],[2.55,0.95],[2.58,0.97],[2.6,0.94],[2.63,0.98],[2.65,0.96],[2.7,0.97],[2.75,0.99],[2.8,0.98],[2.85,0.99],[2.9,0.98],[3.0,0.97],[3.05,1],[3.1,1],[3.15,1],[3.2,1],[3.25,1],
];
const fcmPolMore = [
  [0.03,0.86],[0.08,0.9],[0.13,0.82],[0.18,0.88],[0.23,0.82],[0.28,0.94],[0.33,0.84],[0.43,0.9],[0.53,0.86],[0.63,0.92],[0.73,0.86],[0.83,0.82],[0.93,0.84],[1.03,0.86],[1.13,0.82],[1.23,0.88],[1.33,0.8],[1.43,0.84],[1.53,0.8],[1.63,0.82],[1.73,0.86],[1.83,0.82],[1.93,0.84],[1.98,0.84],[2.08,0.9],[2.18,0.88],[2.28,0.9],[2.38,0.92],[2.48,0.92],[2.58,0.94],[2.68,0.95],
];
const fcmPolTop = [
  [1.95,1],[1.97,0.99],[2.0,1],[2.02,0.98],[2.05,1],[2.07,0.99],[2.1,1],[2.12,0.98],[2.15,1],[2.17,0.99],[2.2,1],[2.22,0.98],[2.25,1],[2.27,0.99],[2.3,1],[2.32,0.98],[2.35,1],[2.37,0.99],[2.4,1],[2.42,0.98],[2.45,1],[2.47,0.99],[2.5,1],[2.53,0.98],[2.56,1],[2.6,0.99],[2.63,1],[2.67,0.98],[2.7,1],[2.74,0.99],[2.78,1],[2.82,0.99],[2.86,1],[2.9,0.99],
  [1.96,0.97],[1.99,0.96],[2.02,0.98],[2.05,0.97],[2.08,0.95],[2.11,0.98],[2.14,0.97],[2.17,0.96],[2.2,0.98],[2.23,0.97],[2.26,0.95],[2.29,0.98],[2.32,0.97],[2.35,0.96],[2.38,0.98],[2.41,0.97],[2.44,0.95],[2.47,0.98],[2.5,0.97],[2.53,0.96],[2.56,0.98],[2.59,0.97],[2.62,0.95],[2.65,0.98],[2.68,0.97],[2.71,0.96],[2.74,0.98],[2.77,0.97],[2.8,0.96],[2.84,0.98],[2.0,0.87],[2.02,0.86],[2.05,0.88],[2.1,0.92],[2.2,0.93],[2.3,0.92],
];

const hcmData = [
  [...hcmExp, ...hcmExpMore, ...hcmExpTop],
  [...hcmSto, ...hcmStoMore, ...hcmStoTop],
  [...hcmSen, ...hcmSenMore, ...hcmSenTop],
  [...hcmPol, ...hcmPolMore, ...hcmPolTop],
];
const fcmData = [
  [...fcmExp, ...fcmExpMore, ...fcmExpTop],
  [...fcmSto, ...fcmStoMore, ...fcmStoTop],
  [...fcmSen, ...fcmSenMore, ...fcmSenTop],
  [...fcmPol, ...fcmPolMore, ...fcmPolTop],
];

// ---------- layout ----------
const grids = [
  { left: 48, top: 35, width: 358, height: 188 },
  { left: 459, top: 35, width: 358, height: 188 },
  { left: 48, top: 296, width: 358, height: 187 },
  { left: 459, top: 296, width: 358, height: 187 },
];
const titlePos = [
  { x: 227, y: 16 },
  { x: 638, y: 16 },
  { x: 227, y: 277 },
  { x: 638, y: 277 },
];

const BLUE = "#0072BD";
const ORANGE = "#D95319";
const AXIS = "#555";
const FONT = "Liberation Sans, Arial, sans-serif";

export default function App() {
  const ref = useRef<HTMLDivElement>(null);
  useEffect(() => {
    if (!ref.current) return;
    const chart = echarts.init(ref.current, null, { renderer: "svg" });
    const xAxes = grids.map((_, i) => ({
      type: "value",
      gridIndex: i,
      min: xTicks[0],
      max: xTicks[xTicks.length - 1],
      interval: 0.5,
      axisLine: { show: true, onZero: false, lineStyle: { color: AXIS, width: 0.8 } },
      axisTick: { show: true, inside: true, length: 3, lineStyle: { color: AXIS, width: 0.8 } },
      axisLabel: { fontSize: 8.5, color: "#333", margin: 4, fontFamily: FONT },
      splitLine: { show: false },
      name: "Yield (t/ha)",
      nameLocation: "middle",
      nameGap: 15,
      nameTextStyle: { fontSize: 9.5, color: "#333", fontFamily: FONT },
    }));
    const yAxes = grids.map((_, i) => ({
      type: "value",
      gridIndex: i,
      min: 0,
      max: 1,
      interval: 0.1,
      axisLine: { show: true, onZero: false, lineStyle: { color: AXIS, width: 0.8 } },
      axisTick: { show: true, inside: true, length: 3, lineStyle: { color: AXIS, width: 0.8 } },
      axisLabel: { fontSize: 8.5, color: "#333", margin: 3, fontFamily: FONT },
      splitLine: { show: false },
      name: `{a|Ksw}{b|${subs[i]}}`,
      nameLocation: "middle",
      nameGap: 20,
      nameRotate: 90,
      nameTextStyle: {
        fontFamily: FONT,
        color: "#333",
        rich: {
          a: { fontSize: 10.5, color: "#333", fontFamily: FONT, lineHeight: 16, verticalAlign: "top" },
          b: { fontSize: 7, color: "#333", fontFamily: FONT, lineHeight: 16, verticalAlign: "bottom" },
        },
      },
    }));
    const series: any[] = [];
    grids.forEach((_, i) => {
      series.push({
        type: "scatter",
        name: seriesNames[0],
        xAxisIndex: i,
        yAxisIndex: i,
        data: hcmData[i],
        symbol: "circle",
        symbolSize: 6.5,
        itemStyle: { color: "rgba(0,0,0,0)", borderColor: BLUE, borderWidth: 0.9, opacity: 0.62 },
        emphasis: { disabled: true },
      });
      series.push({
        type: "scatter",
        name: seriesNames[1],
        xAxisIndex: i,
        yAxisIndex: i,
        data: fcmData[i],
        symbol: "circle",
        symbolSize: 6.5,
        itemStyle: { color: "rgba(0,0,0,0)", borderColor: ORANGE, borderWidth: 0.9, opacity: 0.55 },
        emphasis: { disabled: true },
      });
    });
    chart.setOption({
      animation: false,
      backgroundColor: "#fff",
      title: titles.map((t, i) => ({
        text: t,
        left: titlePos[i].x,
        top: titlePos[i].y,
        textAlign: "center",
        padding: 0,
        textStyle: { fontSize: 10, fontWeight: "bold", color: "#000", fontFamily: FONT },
      })),
      legend: {
        orient: "vertical",
        left: 844,
        top: 34,
        padding: [4, 4, 4, 12],
        itemGap: 2,
        itemWidth: 6,
        itemHeight: 6,
        borderColor: "#999",
        borderWidth: 0.8,
        data: seriesNames.map((n) => ({
          name: n,
          itemStyle: { color: "rgba(0,0,0,0)", borderColor: "#aaa", borderWidth: 0.8 },
        })),
        textStyle: { fontSize: 8, fontWeight: "bold", color: "#111", fontFamily: FONT, padding: [0, 0, 0, 8] },
      },
      grid: grids.map((g) => ({ ...g, containLabel: false })),
      xAxis: xAxes,
      yAxis: yAxes,
      series,
    });
    return () => chart.dispose();
  }, []);
  return <div ref={ref} style={{ position: "absolute", left: 0, top: 0, width: 945, height: 509 }} />;
}
